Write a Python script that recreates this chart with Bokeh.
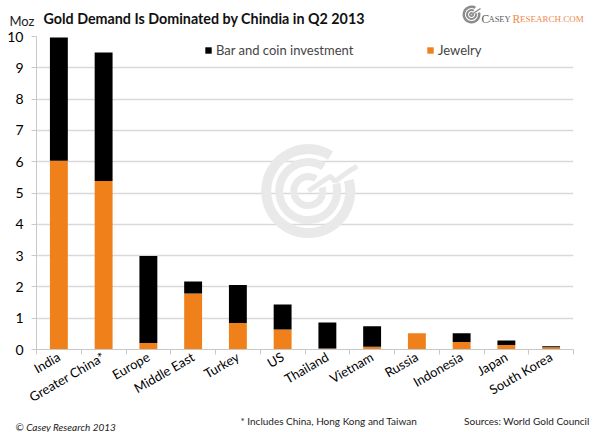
import math
from bokeh.plotting import figure
from bokeh.layouts import column
from bokeh.models import (Range1d, FixedTicker, Legend, LegendItem, ColumnDataSource, Plot)
from bokeh.core.properties import value
from bokeh.embed import file_html
from bokeh.resources import INLINE

# ---- data ----
categories = ["India", "Greater China*", "Europe", "Middle East", "Turkey", "US",
              "Thailand", "Vietnam", "Russia", "Indonesia", "Japan", "South Korea"]
jewelry = [6.03, 5.38, 0.21, 1.79, 0.85, 0.64, 0.03, 0.09, 0.52, 0.24, 0.14, 0.07]
bar_coin = [3.94, 4.11, 2.78, 0.38, 1.21, 0.80, 0.83, 0.65, 0.00, 0.28, 0.15, 0.03]
y_ticks = [0, 1, 2, 3, 4, 5, 6, 7, 8, 9, 10]
series_names = ["Bar and coin investment", "Jewelry"]
title_text = "Gold Demand Is Dominated by Chindia in Q2 2013"
unit_text = "Moz"
footnote_text = "* Includes China, Hong Kong and Taiwan"
source_text = "Sources: World Gold Council"
copyright_text = "© Casey Research 2013"

ORANGE = "#F0801A"
FONT = "Lato"
W, H = 600, 432
TOP_H, FOOT_H = 28, 18
MAIN_H = H - TOP_H - FOOT_H
FRAME_W, FRAME_H = 537, 316
B_LEFT, B_RIGHT, B_TOP = 36, 27, 8
B_BOTTOM = MAIN_H - B_TOP - FRAME_H

CAN_UNALIGN = "frame_align" in Plot.properties()


def blank_fig(h):
    if CAN_UNALIGN:
        f = figure(frame_width=W, frame_height=h, output_backend="svg",
                   toolbar_location=None, x_range=Range1d(0, W), y_range=Range1d(0, h),
                   x_axis_location=None, y_axis_location=None, min_border=0)
        f.frame_align = False
    else:
        f = figure(frame_width=FRAME_W, frame_height=h, output_backend="svg",
                   toolbar_location=None,
                   x_range=Range1d(B_LEFT, B_LEFT + FRAME_W), y_range=Range1d(0, h),
                   x_axis_location=None, y_axis_location=None, min_border=0,
                   min_border_left=B_LEFT, min_border_right=B_RIGHT)
    f.outline_line_color = None
    f.grid.grid_line_color = None
    return f


def txt(f, x, y, s, size, font=FONT, color="#111111", style="normal",
        align="left", baseline="middle"):
    f.text(x=[x], y=[y], text=[s], text_font=value(font), text_font_size=size,
           text_font_style=style, text_color=color, text_align=align,
           text_baseline=baseline)


lo = 0 if CAN_UNALIGN else B_LEFT + 1
hi_shift = 0 if CAN_UNALIGN else -15

# ---- header ----
top = blank_fig(TOP_H)
txt(top, 43, 10.5, title_text, "14.3px", style="bold", baseline="alphabetic")
txt(top, max(9, lo), 8, unit_text, "13px", color="#222222")
lx = 471 + hi_shift
for r_in, r_out in [(6.5, 9), (3.5, 5.5), (0.8, 2.5)]:
    top.annular_wedge(x=lx, y=14, inner_radius=r_in, outer_radius=r_out,
                      inner_radius_units="screen", outer_radius_units="screen",
                      start_angle=math.radians(60), end_angle=math.radians(375),
                      color="#8c8c8c", line_color=None)
top.line([lx, lx + 6, lx + 9], [14, 18, 20], line_color="#8c8c8c", line_width=1.5)
txt(top, 481 + hi_shift, 10, "C", "11.5px", font="Liberation Serif", color="#5a5a5a",
    baseline="alphabetic")
txt(top, 488 + hi_shift, 10, "ASEY", "8.5px", font="Liberation Serif", color="#5a5a5a",
    baseline="alphabetic")
txt(top, 512 + hi_shift, 10, "R", "11.5px", font="Liberation Serif", color="#EE8A4C",
    baseline="alphabetic")
txt(top, 519.5 + hi_shift, 10, "ESEARCH.COM", "9px", font="Liberation Serif",
    color="#EE8A4C", baseline="alphabetic")

# ---- main chart ----
xpos = [i + 0.5 for i in range(len(categories))]
src = ColumnDataSource(dict(x=xpos, cat=categories, jewelry=jewelry, bar_coin=bar_coin))

p = figure(width=W, height=MAIN_H, output_backend="svg", toolbar_location=None,
           x_range=Range1d(0, len(categories)), y_range=Range1d(0, y_ticks[-1]),
           min_border_left=B_LEFT, min_border_right=B_RIGHT, min_border_top=B_TOP,
           min_border_bottom=B_BOTTOM)
p.outline_line_color = None
if CAN_UNALIGN:
    p.frame_align = False

# watermark
cx = len(categories) * 0.506
cy = 5.06
for r_in, r_out in [(37, 47), (25, 33), (11, 18)]:
    p.annular_wedge(x=cx, y=cy, inner_radius=r_in, outer_radius=r_out,
                    inner_radius_units="screen", outer_radius_units="screen",
                    start_angle=math.radians(58), end_angle=math.radians(375),
                    color="#e9e9e9", line_color=None)
sx = len(categories) / FRAME_W
sy = y_ticks[-1] / FRAME_H
arrow_dx = [0, 22, 27, 42, 49]
arrow_dy = [0, 15, 10, 21, 25]
p.line([cx + d * sx for d in arrow_dx], [cy + d * sy for d in arrow_dy],
       line_color="#e9e9e9", line_width=5)

rs = p.vbar_stack(["jewelry", "bar_coin"], x="x", width=0.4, source=src,
                  color=[ORANGE, "black"], line_color=None)

p.xgrid.grid_line_color = None
p.ygrid.grid_line_color = "#d9d9d9"
p.ygrid.grid_line_width = 1.5
p.ygrid.ticker = FixedTicker(ticks=y_ticks)

ya = p.yaxis[0]
ya.ticker = FixedTicker(ticks=y_ticks)
ya.axis_line_color = "#c8c8c8"
ya.major_tick_line_color = "#c8c8c8"
ya.major_tick_out = 5
ya.major_tick_in = 0
ya.minor_tick_line_color = None
ya.minor_tick_out = 0
ya.major_label_standoff = 8
ya.major_label_text_font = FONT
ya.major_label_text_font_size = "14px"
ya.major_label_text_color = "black"

xa = p.xaxis[0]
xa.ticker = FixedTicker(ticks=xpos, minor_ticks=list(range(len(categories) + 1)))
xa.major_label_overrides = {x: c for x, c in zip(xpos, categories)}
xa.axis_line_color = "#c8c8c8"
xa.major_tick_line_color = None
xa.major_tick_out = 0
xa.major_tick_in = 0
xa.minor_tick_line_color = "#c8c8c8"
xa.minor_tick_out = 5
xa.minor_tick_in = 0
xa.major_label_orientation = math.radians(30)
xa.major_label_standoff = 1
xa.major_label_text_font = FONT
xa.major_label_text_font_size = "13px"
xa.major_label_text_color = "black"

leg1 = Legend(items=[LegendItem(label=series_names[0], renderers=[rs[1]])],
              location=(168, 291))
leg2 = Legend(items=[LegendItem(label=series_names[1], renderers=[rs[0]])],
              location=(390, 291))
for lg in (leg1, leg2):
    lg.padding = 0
    lg.margin = 0
    lg.border_line_color = None
    lg.background_fill_alpha = 0
    lg.glyph_width = 8
    lg.glyph_height = 8
    lg.label_height = 14
    lg.label_standoff = 4
    lg.label_text_font = FONT
    lg.label_text_font_size = "13px"
    lg.label_text_baseline = "middle"
    p.add_layout(lg)

# ---- footer ----
foot = blank_fig(FOOT_H)
txt(foot, max(15, lo), 6, copyright_text, "10px", style="italic", color="#222222")
txt(foot, 240, 12, footnote_text, "10px", color="#222222")
txt(foot, 589 + (hi_shift + 1 if not CAN_UNALIGN else 0), 12, source_text, "10px",
    color="#222222", align="right")

layout = column(top, p, foot, spacing=0)
open("out.html", "w").write(file_html(layout, INLINE))
